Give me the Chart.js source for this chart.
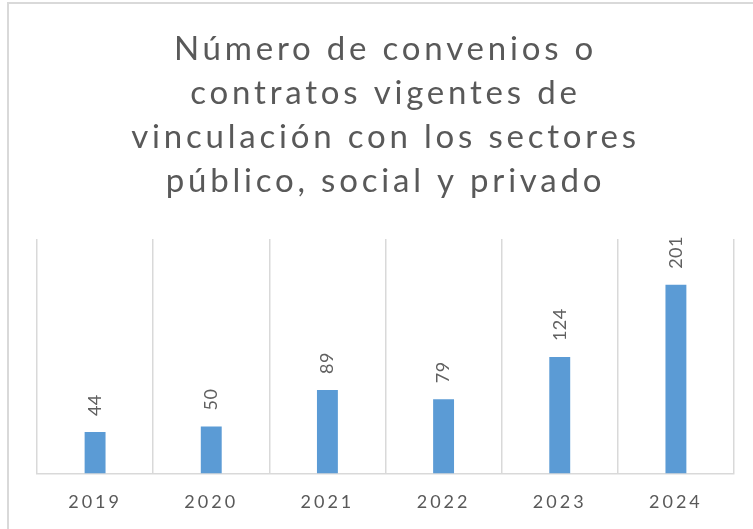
<!DOCTYPE html>
<html>
<head>
<meta charset="utf-8">
<script src="https://cdn.jsdelivr.net/npm/chart.js@4/dist/chart.umd.min.js"></script>
<style>
  html, body { margin: 0; padding: 0; background: #ffffff; overflow: hidden; }
  #frame { position: absolute; left: 7px; top: 2px; width: 800px; height: 600px;
           border-left: 2px solid #d9d9d9; border-top: 2px solid #d9d9d9; }
  #wrap { position: absolute; left: 0; top: 0; width: 753px; height: 529px; }
</style>
</head>
<body>
<div id="frame"></div>
<div id="wrap"><canvas id="c" width="753" height="529"></canvas></div>
<script>
const titleLines = ["Número de convenios o", "contratos vigentes de", "vinculación con los sectores", "público, social y privado"];
const categories = ["2019", "2020", "2021", "2022", "2023", "2024"];
const values = [44, 50, 89, 79, 124, 201];

const TICK_SPACING = '3px';
const TITLE_SPACING = '3.8px';

const spacingPlugin = {
  id: 'spacing',
  beforeLayout(chart) { chart.ctx.letterSpacing = TICK_SPACING; },
  beforeDraw(chart) {
    chart.ctx.letterSpacing = TICK_SPACING;
    const tb = chart.titleBlock;
    if (tb && !tb._spacingPatched) {
      const orig = tb.draw.bind(tb);
      tb.draw = function () {
        const ctx = chart.ctx;
        const prev = ctx.letterSpacing;
        ctx.letterSpacing = TITLE_SPACING;
        orig();
        ctx.letterSpacing = prev;
      };
      tb._spacingPatched = true;
    }
  }
};

const valueLabels = {
  id: 'valueLabels',
  afterDatasetsDraw(chart) {
    const ctx = chart.ctx;
    const meta = chart.getDatasetMeta(0);
    ctx.save();
    ctx.letterSpacing = '0.5px';
    ctx.font = '18px Lato';
    ctx.fillStyle = '#606060';
    ctx.textAlign = 'left';
    ctx.textBaseline = 'middle';
    meta.data.forEach((bar, i) => {
      ctx.save();
      ctx.translate(bar.x, bar.y - 16);
      ctx.rotate(-Math.PI / 2);
      ctx.fillText(String(values[i]), 0, 0);
      ctx.restore();
    });
    ctx.restore();
  }
};

new Chart(document.getElementById('c'), {
  type: 'bar',
  data: {
    labels: categories,
    datasets: [{
      data: values,
      backgroundColor: '#5B9BD5',
      borderWidth: 0,
      categoryPercentage: 1,
      barPercentage: 0.18
    }]
  },
  options: {
    responsive: false,
    animation: false,
    devicePixelRatio: 1,
    layout: { padding: { left: 37, right: 19, top: 10, bottom: -2 } },
    plugins: {
      legend: { display: false },
      tooltip: { enabled: false },
      title: {
        display: true,
        text: titleLines,
        color: '#595959',
        font: { family: 'Lato', size: 33, weight: 'normal', lineHeight: 1.34 },
        padding: { top: 17, bottom: 35 }
      }
    },
    scales: {
      x: {
        offset: true,
        grid: { display: true, color: '#d9d9d9', lineWidth: 1.5, drawTicks: false, offset: true },
        border: { display: true, color: '#d9d9d9', width: 1.5 },
        ticks: { color: '#595959', font: { family: 'Lato', size: 18 }, padding: 18, maxRotation: 0 }
      },
      y: {
        display: false,
        min: 0,
        max: 250
      }
    }
  },
  plugins: [spacingPlugin, valueLabels]
});
</script>
</body>
</html>
